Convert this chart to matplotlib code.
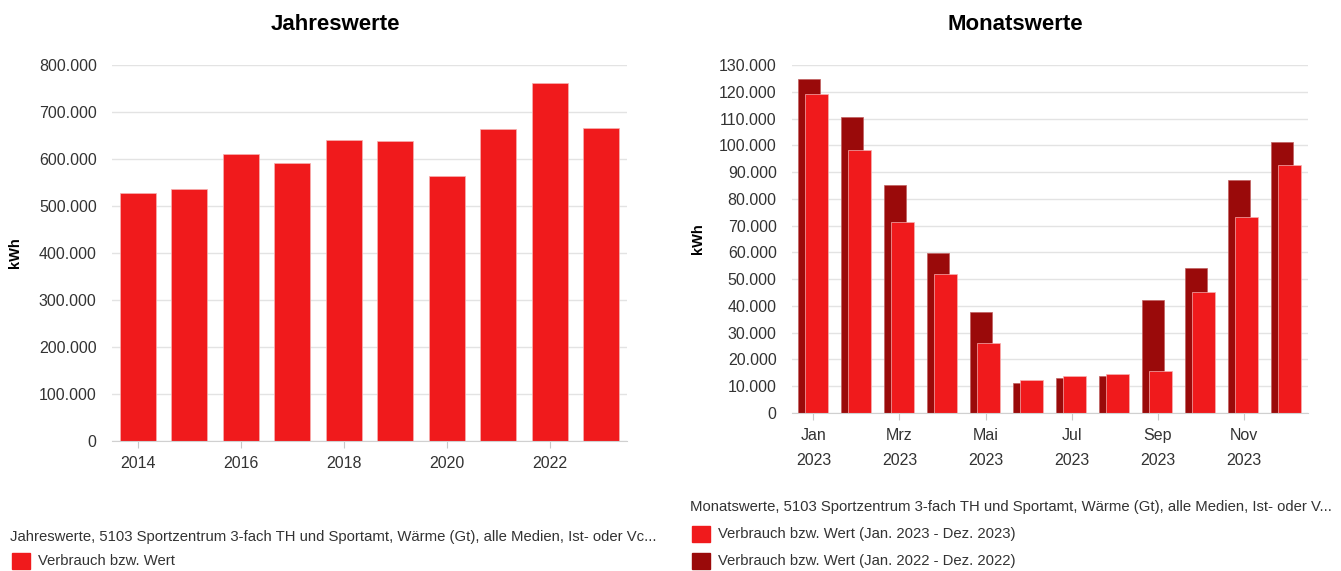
import numpy as np
import matplotlib.pyplot as plt
from matplotlib.patches import Rectangle
from matplotlib.ticker import FuncFormatter, MultipleLocator

# yearly values (kWh)
years = [2014, 2015, 2016, 2017, 2018, 2019, 2020, 2021, 2022, 2023]
year_values = [527000, 537000, 610000, 591000, 641000, 638000, 563000, 663000, 761000, 665000]

# monthly values (kWh)
months = ["Jan", "Feb", "Mrz", "Apr", "Mai", "Jun", "Jul", "Aug", "Sep", "Okt", "Nov", "Dez"]
values_2023 = [119200, 98200, 71500, 52100, 26100, 12300, 13700, 14500, 15800, 45300, 73100, 92500]
values_2022 = [124700, 110600, 85000, 59800, 37900, 11200, 13000, 13700, 42300, 54300, 87200, 101400]

RED = "#f01a1c"
DARK = "#9a0a0a"
GRID = "#e3e3e3"
TXT = "#333333"

plt.rcParams['font.family'] = ['Liberation Sans', 'DejaVu Sans']

def de_fmt(v, pos):
    return f"{v:,.0f}".replace(",", ".")

def style_axes(ax, ylabelpad):
    for s in ["top", "right", "left"]:
        ax.spines[s].set_visible(False)
    ax.spines["bottom"].set_color("#d0d0d0")
    ax.grid(axis="y", color=GRID, linewidth=1)
    ax.set_axisbelow(True)
    ax.yaxis.set_major_formatter(FuncFormatter(de_fmt))
    ax.tick_params(axis="y", length=0, labelsize=11.5, colors=TXT, pad=11)
    ax.tick_params(axis="x", length=5, color="#c8c8c8", labelsize=11.5, labelcolor=TXT, pad=6)
    ax.set_ylabel("kWh", fontsize=10.5, fontweight="bold", labelpad=ylabelpad)

fig = plt.figure(figsize=(13.41, 5.71), dpi=100)

# yearly chart
ax1 = fig.add_axes([0.0835, 0.2277, 0.3841, 0.6585])
ax1.bar(years, year_values, width=0.7, color=RED, edgecolor="#f6b0b0", linewidth=0.5)
ax1.set_xlim(2013.5, 2023.5)
ax1.set_ylim(0, 800000)
ax1.yaxis.set_major_locator(MultipleLocator(100000))
ax1.set_xticks(years[::2])
ax1.set_xticklabels([str(y) for y in years[::2]])
style_axes(ax1, 12)

# monthly chart
ax2 = fig.add_axes([0.5906, 0.2767, 0.3848, 0.6095])
x = np.arange(len(months))
ax2.bar(x - 0.1, values_2022, width=0.52, color=DARK, edgecolor="#c06060", linewidth=0.5)
ax2.bar(x + 0.07, values_2023, width=0.52, color=RED, edgecolor="#f6b0b0", linewidth=0.5)
ax2.set_xlim(-0.5, 11.5)
ax2.set_ylim(0, 130000)
ax2.yaxis.set_major_locator(MultipleLocator(10000))
ax2.set_xticks(x[::2])
ax2.set_xticklabels([m + "\n2023" for m in months[::2]], linespacing=1.85)
style_axes(ax2, 10)

fig.text(335 / 1341, 1 - 24 / 571, "Jahreswerte", fontsize=16, fontweight="bold",
         ha="center", va="center")
fig.text(1015 / 1341, 1 - 24 / 571, "Monatswerte", fontsize=16, fontweight="bold",
         ha="center", va="center")

# legends
fs = 10.7
fig.text(10 / 1341, 1 - 537 / 571,
         "Jahreswerte, 5103 Sportzentrum 3-fach TH und Sportamt, Wärme (Gt), alle Medien, Ist- oder Vc...",
         fontsize=fs, color=TXT, va="center")
fig.patches.append(Rectangle((12 / 1341, 1 - 569 / 571), 18 / 1341, 16 / 571,
                             transform=fig.transFigure, color=RED))
fig.text(38 / 1341, 1 - 561 / 571, "Verbrauch bzw. Wert",
         fontsize=fs, color=TXT, va="center")

fig.text(690 / 1341, 1 - 507 / 571,
         "Monatswerte, 5103 Sportzentrum 3-fach TH und Sportamt, Wärme (Gt), alle Medien, Ist- oder V...",
         fontsize=fs, color=TXT, va="center")
fig.patches.append(Rectangle((692 / 1341, 1 - 542 / 571), 18 / 1341, 16 / 571,
                             transform=fig.transFigure, color=RED))
fig.text(718 / 1341, 1 - 534 / 571, "Verbrauch bzw. Wert (Jan. 2023 - Dez. 2023)",
         fontsize=fs, color=TXT, va="center")
fig.patches.append(Rectangle((692 / 1341, 1 - 569 / 571), 18 / 1341, 16 / 571,
                             transform=fig.transFigure, color=DARK))
fig.text(718 / 1341, 1 - 561 / 571, "Verbrauch bzw. Wert (Jan. 2022 - Dez. 2022)",
         fontsize=fs, color=TXT, va="center")

fig.savefig("out.png", dpi=100)
